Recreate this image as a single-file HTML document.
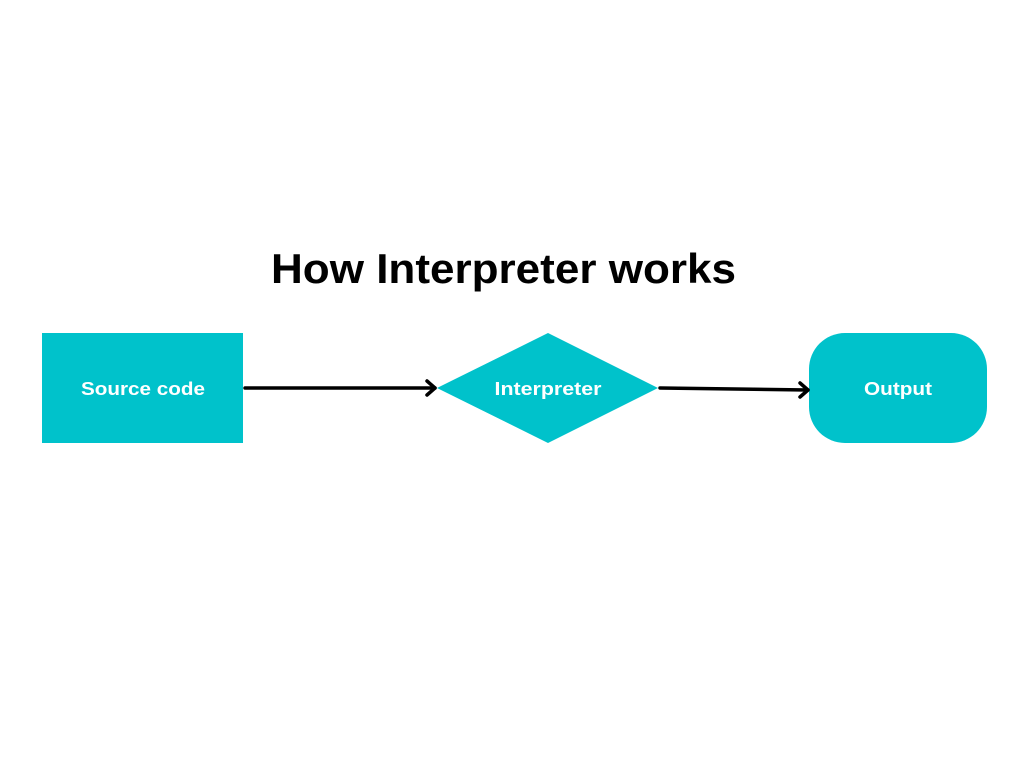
<!DOCTYPE html>
<html><head><style>html,body{margin:0;padding:0;background:#fff;}</style></head>
<body>
<svg width="1024" height="768" viewBox="0 0 1024 768" xmlns="http://www.w3.org/2000/svg">
<rect width="1024" height="768" fill="#fff"/>
<text x="271" y="283" font-family="Liberation Sans, sans-serif" font-weight="bold" font-size="42" textLength="465" lengthAdjust="spacingAndGlyphs" fill="#000">How Interpreter works</text>
<rect x="42" y="333" width="201" height="110" fill="#00c2cb"/>
<polygon points="548,333 658,388 548,443 437,388" fill="#00c2cb"/>
<rect x="809" y="333" width="178" height="110" rx="36" ry="36" fill="#00c2cb"/>
<g stroke="#000" stroke-width="3.5" fill="none" stroke-linecap="round" stroke-linejoin="round">
<line x1="245" y1="388" x2="435" y2="388"/>
<polyline points="427,381 435,388 427,395"/>
<line x1="660" y1="388" x2="808" y2="390"/>
<polyline points="800,383 808,390 800,397"/>
</g>
<g font-family="Liberation Sans, sans-serif" font-weight="bold" font-size="18" fill="#fff" text-anchor="middle">
<text x="143" y="395" textLength="124" lengthAdjust="spacingAndGlyphs">Source code</text>
<text x="548" y="395" textLength="107" lengthAdjust="spacingAndGlyphs">Interpreter</text>
<text x="898" y="395" textLength="68" lengthAdjust="spacingAndGlyphs">Output</text>
</g>
</svg>
</body></html>
